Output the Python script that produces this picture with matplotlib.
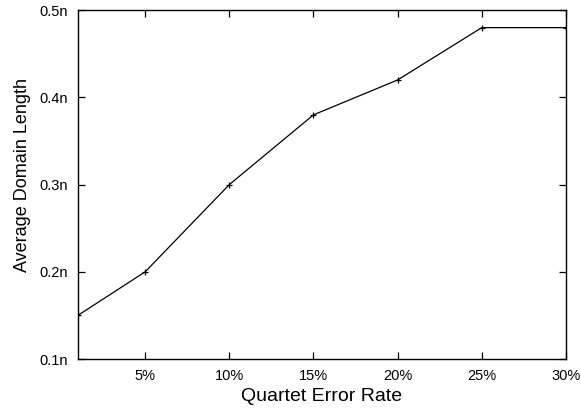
import matplotlib
matplotlib.use('Agg')
import matplotlib.pyplot as plt

plt.rcParams['font.family'] = ['Liberation Sans', 'DejaVu Sans']

# Quartet error rate (%) vs average domain length (in units of n)
error_rate = [1, 5, 10, 15, 20, 25, 30]
domain_len = [0.15, 0.20, 0.30, 0.38, 0.42, 0.48, 0.48]
x_ticks = [5, 10, 15, 20, 25, 30]
x_labels = ['5%', '10%', '15%', '20%', '25%', '30%']
y_ticks = [0.1, 0.2, 0.3, 0.4, 0.5]
y_labels = ['0.1n', '0.2n', '0.3n', '0.4n', '0.5n']

fig = plt.figure(figsize=(5.81, 4.08), dpi=100)
ax = fig.add_axes([0.134, 0.120, 0.840, 0.855])

ax.plot(error_rate, domain_len, '-', color='black', lw=0.9,
        marker='+', markersize=5, markeredgewidth=0.9)

ax.set_xlim(1, 30)
ax.set_ylim(0.1, 0.5)
ax.set_xticks(x_ticks)
ax.set_xticklabels(x_labels)
ax.set_yticks(y_ticks)
ax.set_yticklabels(y_labels)
ax.tick_params(direction='in', top=True, right=True, length=5,
               width=0.9, labelsize=10.5, pad=7)
for s in ax.spines.values():
    s.set_linewidth(1.0)

ax.set_xlabel('Quartet Error Rate', fontsize=14, labelpad=4)
ax.set_ylabel('Average Domain Length', fontsize=13)
ax.yaxis.set_label_coords(-0.095, 0.527)

fig.savefig('out.png', dpi=100)
